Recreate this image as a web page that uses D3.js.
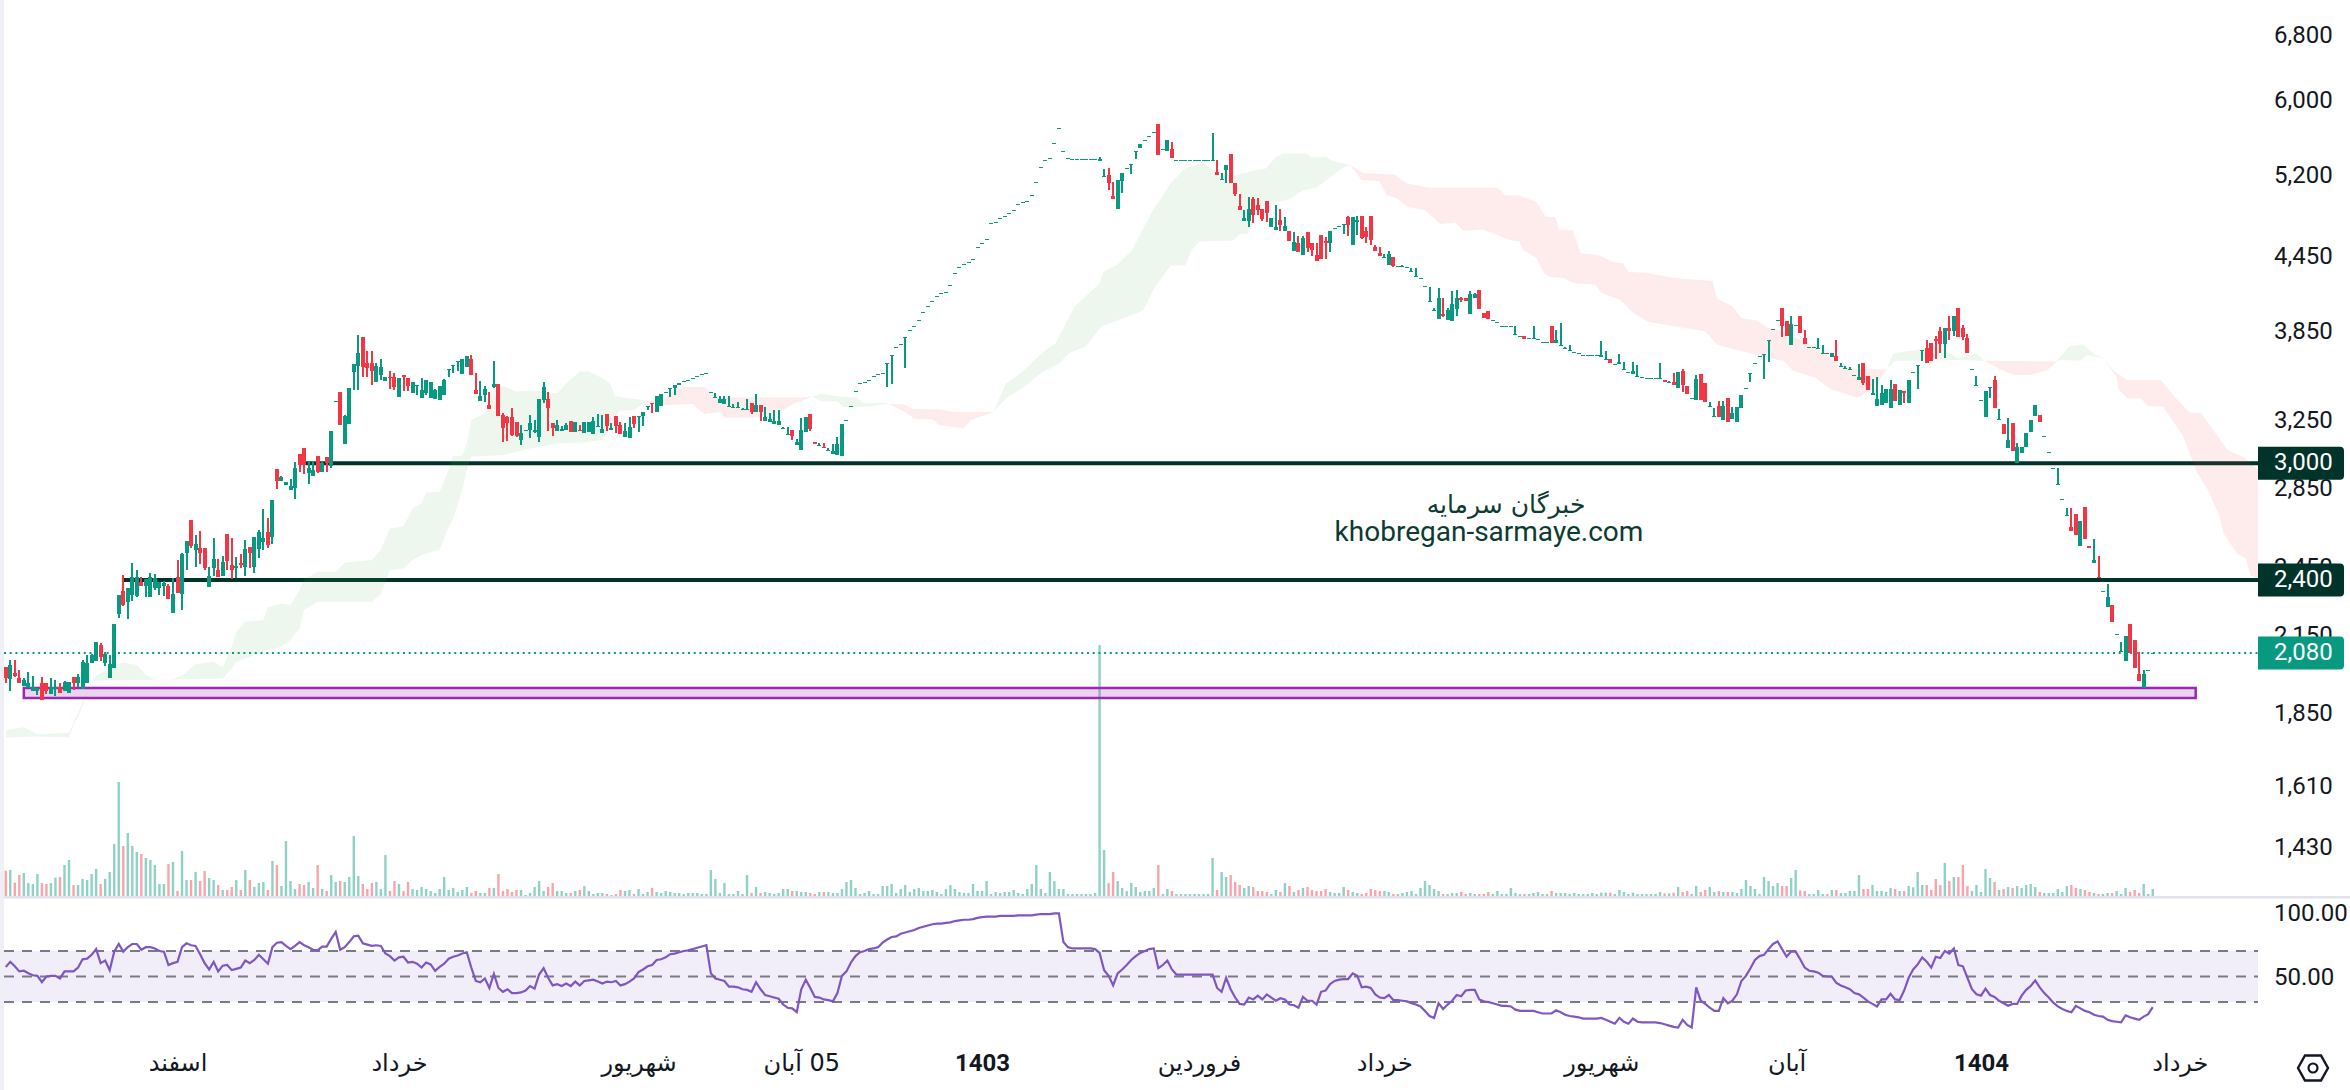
<!DOCTYPE html>
<html>
<head>
<meta charset="utf-8">
<script src="https://cdnjs.cloudflare.com/ajax/libs/d3/7.8.5/d3.min.js"></script>
<style>
    html, body { margin: 0; padding: 0; background: #fff; }
    svg { display: block; }
    text { font-family: Roboto, "DejaVu Sans", sans-serif; fill: #131722; }
    .axis text { font-size: 24px; }
    .axis .domain { display: none; }
    .persian text, text.persian { font-family: "DejaVu Sans", Roboto, sans-serif; }
</style>
</head>
<body>
<div id="graph"></div>
<script>
// one row per session: open, high, low, close
var candles = [
    [2019,2019,1961,1978],[1975,2048,1931,2029],[1999,2048,1984,1987],[1978,2009,1961,1961],[1949,1978,1949,1971],
    [1940,2000,1940,1961],[1931,1988,1931,1946],[1928,1940,1915,1940],[1959,1982,1895,1895],[1959,1959,1919,1931],
    [1919,1978,1919,1946],[1936,1971,1913,1946],[1944,1959,1924,1924],[1931,1968,1931,1963],[1924,1965,1924,1965],
    [1982,1982,1934,1959],[1959,1994,1946,1982],[1936,2048,1936,2042],[1961,2068,1961,2038],[2035,2071,2035,2068],
    [2045,2119,2045,2119],[2108,2115,2045,2058],[2035,2079,2025,2072],[1980,2068,1980,2032],[2018,2194,2018,2194],
    [2237,2320,2222,2320],[2338,2410,2270,2276],[2290,2350,2216,2350],[2320,2465,2294,2400],[2315,2434,2312,2400],
    [2380,2400,2361,2361],[2360,2391,2312,2391],[2312,2418,2312,2400],[2350,2414,2342,2396],[2350,2380,2320,2380],
    [2361,2383,2315,2375],[2360,2372,2303,2303],[2241,2395,2241,2324],[2400,2481,2327,2327],[2324,2513,2254,2510],
    [2516,2573,2434,2573],[2679,2679,2537,2549],[2529,2603,2449,2559],[2537,2623,2462,2516],[2537,2537,2434,2444],
    [2357,2449,2357,2408],[2444,2588,2406,2486],[2434,2484,2400,2403],[2408,2500,2408,2473],[2608,2608,2434,2476],
    [2460,2588,2392,2434],[2444,2494,2398,2452],[2465,2510,2446,2457],[2449,2578,2408,2534],[2545,2545,2444,2516],
    [2449,2592,2421,2592],[2534,2628,2492,2620],[2570,2736,2529,2590],[2616,2689,2540,2554],[2592,2784,2559,2784],
    [2955,2955,2843,2889],[2889,2915,2889,2911],[2867,2884,2867,2884],[2841,2898,2841,2860],[2847,2993,2788,2962],
    [3040,3040,2939,2977],[3074,3074,2926,2977],[2934,3000,2871,2958],[2917,2998,2917,2949],[3029,3029,2934,2939],
    [2939,2996,2939,2987],[3023,3023,2939,2987],[2974,3178,2962,3178],[3367,3367,3367,3367],[3427,3427,3215,3215],
    [3100,3277,3100,3273],[3221,3453,3221,3453],[3560,3615,3440,3615],[3601,3825,3436,3692],[3810,3810,3528,3597],
    [3620,3704,3528,3590],[3620,3704,3473,3570],[3495,3620,3495,3601],[3540,3650,3506,3597],[3502,3524,3502,3524],
    [3524,3567,3447,3521],[3524,3551,3440,3462],[3396,3521,3396,3521],[3537,3537,3429,3528],[3517,3517,3429,3466],
    [3422,3493,3422,3493],[3464,3471,3407,3471],[3389,3517,3389,3436],[3418,3506,3403,3506],[3389,3493,3389,3493],
    [3382,3444,3382,3436],[3375,3466,3375,3466],[3407,3513,3407,3506],[3574,3579,3528,3579],[3601,3606,3556,3606],
    [3629,3634,3570,3634],[3549,3648,3549,3648],[3597,3672,3597,3672],[3648,3678,3542,3542],[3440,3551,3414,3414],
    [3369,3500,3369,3400],[3403,3466,3362,3447],[3339,3427,3315,3315],[3458,3636,3449,3477],[3480,3480,3273,3273],
    [3275,3288,3114,3199],[3267,3271,3120,3229],[3267,3324,3150,3154],[3235,3235,3144,3148],[3126,3215,3096,3164],
    [3182,3182,3182,3182],[3182,3277,3138,3225],[3174,3246,3168,3184],[3144,3380,3114,3380],[3373,3491,3352,3458],
    [3380,3425,3180,3324],[3225,3225,3150,3195],[3180,3246,3180,3215],[3180,3209,3180,3188],[3184,3225,3184,3215],
    [3238,3238,3174,3174],[3174,3233,3174,3233],[3184,3213,3180,3180],[3164,3231,3164,3231],[3174,3235,3174,3235],
    [3160,3267,3160,3242],[3205,3284,3205,3211],[3168,3277,3168,3190],[3284,3284,3178,3209],[3184,3229,3184,3195],
    [3271,3271,3168,3209],[3215,3235,3160,3160],[3144,3229,3144,3180],[3138,3267,3138,3205],[3271,3271,3199,3221],
    [3267,3271,3174,3271],[3273,3296,3211,3296],[3330,3335,3309,3335],[3352,3352,3292,3348],[3296,3400,3296,3400],
    [3335,3414,3335,3414],[3425,3425,3425,3425],[3447,3451,3390,3451],[3449,3471,3407,3471],[3469,3484,3469,3484],
    [3497,3497,3497,3497],[3504,3504,3504,3504],[3517,3517,3517,3517],[3530,3530,3530,3530],[3544,3544,3544,3544],
    [3551,3551,3551,3551],[3425,3425,3425,3425],[3390,3418,3390,3394],[3354,3400,3354,3380],[3348,3400,3348,3380],
    [3330,3400,3330,3335],[3324,3348,3324,3328],[3324,3360,3324,3328],[3311,3322,3311,3315],[3311,3380,3311,3315],
    [3354,3354,3286,3296],[3298,3414,3298,3341],[3341,3341,3240,3296],[3240,3328,3240,3265],[3233,3290,3233,3252],
    [3221,3309,3221,3240],[3215,3309,3215,3240],[3192,3203,3192,3197],[3156,3203,3156,3160],[3184,3184,3124,3148],
    [3094,3130,3094,3112],[3064,3258,3064,3184],[3172,3265,3172,3265],[3284,3284,3178,3190],[3112,3112,3102,3102],
    [3090,3106,3090,3094],[3082,3106,3076,3076],[3058,3076,3058,3064],[3041,3100,3041,3058],[3035,3142,3035,3100],
    [3029,3221,3029,3221],[3244,3244,3244,3244],[3332,3332,3332,3332],[3431,3431,3431,3431],[3484,3484,3484,3484],
    [3491,3491,3491,3491],[3504,3504,3504,3504],[3530,3530,3530,3530],[3544,3544,3544,3544],[3551,3551,3551,3551],
    [3616,3620,3462,3620],[3671,3676,3480,3676],[3735,3735,3735,3735],[3757,3757,3757,3757],[3802,3807,3590,3807],
    [3859,3859,3859,3859],[3888,3888,3888,3888],[3932,3932,3932,3932],[3992,3992,3992,3992],[4038,4038,4038,4038],
    [4077,4077,4077,4077],[4116,4116,4116,4116],[4140,4140,4140,4140],[4148,4148,4148,4148],[4204,4204,4204,4204],
    [4304,4304,4304,4304],[4352,4352,4352,4352],[4378,4378,4378,4378],[4396,4396,4396,4396],[4421,4421,4421,4421],
    [4523,4523,4523,4523],[4559,4559,4559,4559],[4594,4594,4594,4594],[4736,4736,4736,4736],[4745,4745,4745,4745],
    [4781,4781,4781,4781],[4799,4799,4799,4799],[4827,4827,4827,4827],[4855,4855,4855,4855],[4911,4911,4911,4911],
    [4930,4930,4930,4930],[4940,4940,4940,4940],[4997,4997,4997,4997],[5123,5123,5123,5123],[5273,5273,5273,5273],
    [5345,5345,5345,5345],[5366,5366,5366,5366],[5521,5521,5521,5521],[5683,5683,5683,5683],[5437,5437,5437,5437],
    [5366,5366,5366,5366],[5356,5356,5356,5356],[5356,5356,5356,5356],[5356,5356,5356,5356],[5356,5356,5356,5356],
    [5356,5356,5356,5356],[5356,5356,5356,5356],[5332,5377,5332,5356],[5178,5256,5178,5184],[5198,5266,5045,5116],
    [4987,5127,4962,4962],[4868,5147,4868,5147],[5136,5218,5018,5218],[5263,5263,5263,5263],[5297,5304,5205,5304],
    [5428,5437,5356,5437],[5472,5514,5472,5514],[5553,5553,5553,5553],[5595,5595,5595,5595],[5639,5639,5639,5639],
    [5732,5732,5398,5398],[5458,5458,5458,5458],[5440,5557,5440,5557],[5461,5535,5370,5370],[5345,5345,5345,5345],
    [5345,5345,5345,5345],[5345,5345,5345,5345],[5345,5345,5345,5345],[5345,5345,5345,5345],[5345,5345,5345,5345],
    [5345,5345,5345,5345],[5345,5345,5345,5345],[5342,5632,5342,5349],[5223,5345,5198,5198],[5147,5212,5147,5154],
    [5246,5297,5120,5297],[5408,5408,5116,5116],[5113,5113,4991,5011],[4899,5011,4861,4861],[4760,4861,4760,4784],
    [4760,4978,4703,4867],[4962,4981,4739,4812],[4905,4971,4812,4861],[4867,4867,4757,4775],[4943,4943,4748,4830],
    [4703,4784,4703,4784],[4676,4905,4676,4703],[4766,4867,4667,4721],[4664,4793,4664,4712],[4667,4667,4577,4577],
    [4491,4658,4491,4568],[4559,4622,4482,4482],[4456,4622,4456,4604],[4658,4658,4482,4518],[4562,4562,4447,4500],
    [4456,4562,4406,4406],[4631,4631,4424,4424],[4580,4615,4424,4562],[4562,4667,4482,4667],[4695,4695,4695,4695],
    [4712,4712,4712,4712],[4724,4730,4640,4730],[4793,4802,4622,4724],[4544,4793,4544,4793],[4748,4802,4631,4766],
    [4802,4802,4595,4604],[4667,4703,4562,4613],[4802,4802,4544,4586],[4527,4544,4491,4491],[4473,4527,4447,4447],
    [4430,4465,4430,4436],[4373,4491,4373,4465],[4442,4442,4358,4367],[4364,4364,4364,4364],[4364,4373,4364,4364],
    [4355,4355,4355,4355],[4315,4346,4315,4321],[4272,4346,4272,4278],[4263,4263,4263,4263],[4195,4195,4195,4195],
    [4074,4190,4074,4079],[4001,4025,4001,4006],[3941,4182,3941,4102],[3979,4102,3956,3964],[3934,4025,3934,4010],
    [3926,4156,3926,4056],[4018,4164,3964,4102],[4102,4112,4071,4090],[4102,4102,4079,4079],[3979,4156,3979,4133],
    [4102,4143,4102,4133],[4164,4164,4018,4018],[3987,3987,3949,3949],[4001,4001,3941,3941],[3934,3934,3934,3934],
    [3917,3917,3917,3917],[3888,3888,3888,3888],[3888,3888,3888,3888],[3888,3888,3888,3888],[3825,3891,3825,3830],
    [3817,3817,3817,3817],[3817,3817,3795,3795],[3800,3800,3800,3800],[3797,3891,3797,3802],[3792,3792,3792,3792],
    [3771,3771,3771,3771],[3771,3771,3771,3771],[3891,3891,3766,3766],[3766,3861,3766,3788],[3747,3912,3747,3752],
    [3726,3738,3726,3731],[3711,3752,3711,3716],[3700,3700,3700,3700],[3690,3690,3690,3690],[3676,3676,3676,3676],
    [3676,3676,3676,3676],[3676,3676,3676,3676],[3676,3676,3676,3676],[3667,3781,3667,3676],[3645,3709,3645,3650],
    [3650,3650,3622,3622],[3615,3615,3615,3615],[3613,3686,3613,3629],[3574,3629,3574,3579],[3558,3558,3558,3558],
    [3546,3629,3546,3567],[3528,3608,3528,3533],[3524,3524,3524,3524],[3517,3517,3517,3517],[3517,3517,3517,3517],
    [3517,3517,3517,3517],[3515,3622,3515,3519],[3506,3506,3493,3493],[3489,3500,3489,3493],[3493,3553,3473,3473],
    [3453,3560,3453,3560],[3567,3581,3427,3473],[3466,3466,3414,3414],[3385,3385,3385,3385],[3376,3540,3376,3513],
    [3547,3547,3376,3376],[3488,3488,3362,3362],[3330,3362,3330,3335],[3271,3320,3271,3271],[3335,3367,3267,3267],
    [3246,3367,3246,3335],[3385,3385,3235,3235],[3250,3330,3250,3292],[3235,3326,3235,3326],[3324,3407,3324,3407],
    [3449,3455,3449,3449],[3544,3551,3495,3551],[3620,3620,3620,3620],[3669,3669,3669,3669],[3678,3683,3513,3683],
    [3781,3788,3632,3788],[3868,3868,3868,3868],[3937,3937,3937,3937],[4028,4028,3805,3891],[3925,3925,3817,3817],
    [3752,3964,3752,3905],[3898,3898,3898,3898],[3964,3964,3837,3837],[3800,3861,3759,3759],[3735,3735,3735,3735],
    [3735,3735,3735,3735],[3726,3800,3726,3731],[3686,3752,3686,3690],[3690,3690,3682,3682],[3667,3690,3667,3690],
    [3671,3788,3635,3635],[3597,3620,3597,3601],[3585,3599,3585,3590],[3572,3597,3572,3583],[3540,3540,3540,3540],
    [3506,3613,3506,3524],[3620,3620,3475,3484],[3533,3533,3440,3440],[3403,3511,3403,3418],[3335,3528,3335,3380],
    [3341,3473,3341,3418],[3356,3444,3356,3444],[3324,3506,3324,3447],[3477,3477,3369,3369],[3341,3440,3341,3440],
    [3433,3433,3356,3418],[3356,3506,3356,3506],[3558,3558,3558,3558],[3601,3606,3447,3606],[3704,3711,3636,3711],
    [3728,3788,3620,3620],[3764,3764,3638,3638],[3793,3817,3648,3776],[3849,3881,3690,3757],[3757,3871,3660,3871],
    [3873,3964,3783,3849],[3849,3964,3812,3964],[4025,4025,3805,3805],[3873,3898,3788,3807],[3800,3832,3690,3690],
    [3581,3581,3581,3581],[3469,3533,3469,3473],[3371,3371,3371,3371],[3267,3429,3267,3429],[3455,3460,3385,3460],
    [3506,3533,3324,3324],[3248,3315,3248,3252],[3221,3221,3158,3158],[3074,3256,3074,3124],[3225,3225,3060,3060],
    [2987,3104,2987,3084],[3045,3080,3045,3080],[3084,3164,3084,3164],[3174,3246,3174,3246],[3273,3339,3273,3339],
    [3277,3277,3235,3235],[3148,3148,3148,3148],[3051,3051,3051,3051],[2958,2958,2958,2958],[2867,2958,2867,2871],
    [2790,2790,2790,2790],[2701,2740,2701,2705],[2645,2740,2625,2625],[2708,2708,2603,2603],[2550,2674,2550,2674],
    [2745,2745,2585,2585],[2548,2548,2541,2541],[2468,2586,2468,2481],[2403,2500,2398,2398],[2336,2336,2336,2336],
    [2269,2368,2269,2310],[2275,2275,2204,2204],[2153,2153,2153,2153],[2080,2122,2080,2083],[2045,2145,2045,2145],
    [2194,2194,2075,2075],[2128,2128,2018,2018],[1994,2079,1968,1968],[1940,2011,1940,1994],[2011,2011,2011,2011],
    [2077,2077,2077,2077]
];

var volumes = [
    76,78,40,63,69,39,36,66,39,36,
    39,55,57,93,108,33,33,51,48,66,
    81,36,51,72,156,342,150,189,150,132,
    126,114,108,93,36,36,96,102,15,135,
    48,48,72,45,75,54,48,33,18,18,
    27,48,18,78,48,27,39,42,18,105,
    93,30,165,45,21,36,33,42,24,93,
    21,15,63,42,45,42,57,180,60,36,
    21,39,42,21,123,15,45,36,15,42,
    21,18,27,21,15,9,21,57,18,24,
    12,18,27,9,15,9,9,24,24,66,
    15,21,12,18,18,3,9,27,45,15,
    27,39,15,15,9,9,15,18,30,15,
    6,9,9,6,3,6,18,15,18,6,
    21,6,12,24,12,9,15,12,9,9,
    6,9,9,9,6,6,78,51,9,39,
    6,6,15,6,63,9,27,9,12,9,
    6,9,21,21,15,15,12,12,9,6,
    12,12,12,9,9,21,42,48,24,6,
    9,15,6,6,30,30,36,9,21,33,
    12,21,24,15,15,18,12,6,21,33,
    21,12,9,9,36,15,15,45,6,12,
    9,12,12,18,9,6,21,36,93,21,
    9,72,45,21,21,6,6,6,6,6,
    6,9,753,138,39,72,45,24,15,39,
    27,12,15,15,24,93,6,21,15,6,
    6,6,6,6,6,6,6,114,18,72,
    57,63,42,33,24,30,27,15,15,12,
    6,18,12,39,30,12,18,24,27,18,
    15,15,21,12,9,9,27,18,12,9,
    6,9,21,18,15,15,12,6,6,9,
    12,15,6,24,45,33,21,15,6,6,
    9,9,12,6,9,6,6,6,12,6,
    15,6,6,24,9,6,6,6,9,12,
    6,6,15,9,9,9,6,9,6,6,
    6,9,6,10,10,10,6,18,12,6,
    10,6,6,6,6,6,12,8,8,10,
    27,12,15,6,30,12,18,27,12,15,
    12,12,12,9,21,48,30,21,6,57,
    45,30,39,30,30,54,78,17,15,6,
    6,18,6,6,18,18,9,9,15,15,
    63,21,21,33,15,15,12,24,21,15,
    15,30,26,72,33,33,18,51,33,99,
    45,57,57,93,30,15,33,12,81,54,
    42,18,21,27,24,30,24,33,36,27,
    12,9,9,9,21,12,30,33,24,21,
    18,12,9,6,6,9,9,15,6,24,
    12,18,9,36,6,21
];

var rsiValues = [
    57.5,61.5,58,54,54.5,52.5,51,50.5,45.5,50,
    50.5,50.5,48.5,54,54,54,57,63.5,64,67,
    71.5,60.5,62.5,55,69.5,75.5,69.5,73,75.5,75.5,
    71,73,73,72,70,69.5,59,60.5,61.5,73,
    76,74.5,74,67.5,60.5,55.5,61.5,54,58.5,59,
    55,56,57,62.5,60.5,63,67,63.5,60,73,
    76.5,77,74,71.5,74,77,74.5,73,71,70.5,
    73.5,73.5,79.5,85,71,73,77,81.5,82,76,
    75,74,74.5,74,68,66,62.5,65,65.5,61,
    61.5,60,57,61,59.5,54.5,57.5,60,64,65.5,
    66.5,68,69,57,46.5,45.5,48.5,41,52,41,
    38,40,37,37,37.5,39,42.5,40.5,51.5,56.5,
    49,43,44,42.5,44.5,42.5,46,43,46.5,47,
    47.5,46,44.5,46,45.5,46.5,43,44,46,48.5,
    53.5,55.5,58,59,63,63.5,65,67.5,68,69,
    70,70.5,71.5,72.5,73.5,74.5,52.5,48.5,47.5,46.5,
    42,42,41.5,40,39.5,38,45.5,40,35.5,34.5,
    33.5,32.5,28,25.5,25,22,40,47.5,41,34,
    33.5,32,31.5,30.5,37,50.5,54,61,66,69,
    70,71.5,72,73,76.5,79,81,81.5,83.5,84.5,
    85.5,86.5,88,89,90,91,91.5,91.5,92,92.5,
    93.5,94,94.5,94.5,95,96,96.5,97,97,97,
    97.5,97.5,97.5,97.5,98,98,98,98,98.5,99,
    99,99,99.5,99.5,77,73,72,72,72,72,
    72,71.5,68.5,55,50.5,43,52.5,55.5,59,63,
    66,68.5,70,71.5,72,56.5,59,62.5,55.5,51.5,
    51.5,51.5,51.5,51.5,51.5,51.5,51.5,51.5,41,38,
    49,40,33.5,28.5,28,33.5,32,35,32,36,
    33.5,31,33,32,28,27.5,25.5,34,31,31,
    28,38,39,44,46.5,47.5,48,48,52.5,50.5,
    41.5,42,41,36,33.5,33,35.5,31.5,31.5,31,
    30.5,29,28,26.5,23,19,17.5,29,24.5,28,
    31,35.5,34.5,39,39.5,39.5,32,30.5,30,29,
    28,27,27,26.5,24,23,23,23,23,22,
    21,21,21,23.5,22,20,19,18.5,18,17,
    17,17,17,17.5,16,14.5,13,17.5,14.5,13,
    17,14.5,14,14,14,14,13.5,12.5,11.5,10.5,
    10,16,12,10,41.5,31,28.5,25.5,23,23,
    33,29,31,36,46.5,50.5,56.5,63,66,67,
    71.5,75.5,77.5,71.5,65.5,69.5,69.5,63.5,57,54.5,
    54,53,50.5,50,50,45,43,41.5,40,37,
    36,33.5,30.5,28.5,26.5,32,32,36.5,32,31.5,
    39,49,55.5,59.5,65,61.5,57,65.5,64.5,70,
    68,72,59,58,49,40,36,35,40.5,35.5,
    34,31,29,27,28.5,28.5,35,39.5,42.5,47,
    41.5,37,33.5,29.5,26.5,24.5,23,22,27,25,
    23,22,20,19,18.5,16,15,14.5,14,19.5,
    18,17,16,18.5,20.5,26
];

// cloud outlines as [bar, price]
var greenCloud = [
    { upper: [[0,1790],[4,1800],[7,1776],[14,1781],[16,1849]],
      lower: [[0,1765],[7,1768],[14,1765],[16,1849]] },
    { upper: [[19,1968],[20,1987],[24,2026],[26,2038],[29,2029],[31,1990],[33,1974],[36,1969],[39,1987],[42,2031],[46,2042],[48,2019],[50,2101],[51,2162],[53,2204],[57,2211],[58,2266],[61,2283],[63,2276],[65,2342],[66,2391],[69,2426],[73,2426],[75,2468],[81,2481],[83,2532],[85,2636],[88,2648],[90,2740],[92,2766],[93,2825],[96,2829],[98,2949],[99,3029],[101,3033],[102,3104],[103,3246],[106,3288],[108,3440],[110,3466],[113,3429],[116,3435],[122,3418],[124,3484],[127,3563],[129,3563],[132,3517],[133.6,3484],[134.9,3396],[140.8,3373],[141.5,3362]],
      lower: [[19,1968],[48,1976],[50,2015],[51,2042],[53,2054],[57,2081],[61,2101],[63,2128],[65,2176],[66,2254],[69,2290],[81,2290],[83,2327],[85,2434],[88,2441],[90,2481],[92,2505],[96,2532],[98,2645],[99,2687],[101,2838],[102,2949],[103,3025],[110,3035],[116,3074],[122,3104],[127,3108],[132,3124],[135.7,3305],[139,3309],[141.5,3362]] },
    { upper: [[178.5,3396],[180.6,3416],[184.4,3396],[188.2,3390],[189.9,3352],[194.9,3356],[195.4,3348]],
      lower: [[178.5,3396],[180.2,3366],[184,3366],[185.3,3328],[190.8,3330],[194.9,3350],[195.4,3348]] },
    { upper: [[218.5,3296],[221.3,3484],[224.6,3551],[229.7,3704],[232.3,3764],[236.5,4036],[242,4221],[242.9,4317],[245.8,4372],[249.2,4500],[253.4,4827],[257.7,5113],[261,5263],[264.9,5320],[267,5246],[271.7,5185],[275.9,5239],[278.9,5263],[281,5380],[282.7,5415],[287.8,5415],[288.7,5373],[292,5380],[293.7,5338],[297.3,5300]],
      lower: [[218.5,3296],[221.3,3385],[225.5,3462],[228.9,3551],[233.1,3620],[235.2,3690],[239,3740],[242.4,3886],[249.2,3971],[251.7,4010],[254.3,4194],[257.7,4367],[260.9,4367],[262.4,4500],[264.1,4572],[271.7,4582],[273,4640],[274.7,4640],[275.9,4873],[281.9,4936],[284.4,4968],[287,5046],[290,5073],[293.3,5180],[295,5246],[297.3,5300]] },
    { upper: [[416.1,3579],[417.6,3690],[422,3709],[427,3740],[429,3716],[431.9,3655],[435.9,3690],[437.8,3638]],
      lower: [[416.1,3579],[418,3636],[432.9,3643],[437.8,3638]] },
    { upper: [[453.6,3632],[456.6,3740],[459.6,3752],[462,3685],[464,3655]],
      lower: [[453.6,3632],[454.6,3643],[459,3638],[460.6,3678],[464,3655]] }
];
var redCloud = [
    { upper: [[15,1815],[16,1849],[19,1968]],
      lower: [[15,1815],[16,1835],[19,1968]] },
    { upper: [[141.5,3362],[145.5,3385],[148.9,3462],[154.8,3457],[156.9,3390],[175.5,3390],[178.5,3396]],
      lower: [[141.5,3362],[145.5,3341],[152,3348],[154.5,3284],[158.2,3296],[159,3261],[165.4,3261],[171.3,3298],[174.7,3356],[178.5,3396]] },
    { upper: [[195.4,3348],[198.4,3346],[200.9,3315],[206.9,3313],[209.4,3296],[218.5,3296]],
      lower: [[195.4,3348],[198.8,3298],[200.9,3256],[205.2,3250],[206.4,3215],[211.9,3195],[213.6,3246],[218.5,3296]] },
    { upper: [[297.3,5300],[300.5,5212],[307.3,5197],[309.8,5113],[314.9,5070],[330.1,5070],[331.8,4995],[334.8,4995],[338.6,4936],[340.7,4796],[342.8,4790],[343.7,4677],[346.7,4671],[348.4,4472],[352.2,4458],[355.6,4396],[357.7,4387],[359,4315],[363.2,4304],[369.1,4263],[377.6,4240],[378.6,4100],[382,4036],[384,3947],[387.4,3930],[389.9,3873],[391.9,3861],[400,3740],[405.3,3612],[409.7,3579],[416.1,3579]],
      lower: [[297.3,5300],[298,5263],[300,5147],[303.9,5136],[305.6,4995],[307.7,4968],[310.2,4885],[314,4855],[317.4,4730],[320.8,4742],[322.5,4667],[326.8,4680],[332.7,4586],[334.8,4572],[335.7,4500],[338.6,4430],[340.3,4304],[341.6,4271],[344.5,4263],[347,4221],[351.7,4208],[352.9,4147],[357.2,4087],[359.8,3997],[363.1,3922],[369,3886],[376,3849],[378.6,3752],[383,3713],[393.4,3635],[395.4,3568],[400.3,3522],[403.7,3443],[409.7,3390],[413.1,3443],[416.1,3579]] },
    { upper: [[437.8,3638],[453.6,3632]],
      lower: [[437.8,3638],[440.8,3585],[444.3,3540],[447.7,3540],[451.7,3574],[453.6,3625]] },
    { upper: [[464,3655],[466.5,3563],[469.4,3506],[476.8,3506],[479.8,3396],[483.2,3292],[485.7,3288],[491.6,3064],[495,3025],[498.3,2949]],
      lower: [[464,3655],[467,3528],[467.5,3440],[469.4,3385],[472.4,3385],[473.9,3335],[477.3,3330],[481.8,3144],[484.7,2940],[487.2,2838],[489.7,2705],[490.7,2611],[493.6,2513],[495.6,2489],[496.6,2410],[498.3,2395]] }
];

var priceTicks = [6800, 6000, 5200, 4450, 3850, 3250, 2850, 2450, 2150, 1850, 1610, 1430];
var rsiTicks = [100, 50];
var rsiBands = [70, 50, 30];

var monthBars = [38, 87, 140, 176, 216, 264, 305, 353, 394, 437, 481];
var monthLabels = ["اسفند", "خرداد", "شهریور", "05 آبان", "1403", "فروردین", "خرداد", "شهریور", "آبان", "1404", "خرداد"];

var levelValues = [2988, 2388];
var levelLabels = ["3,000", "2,400"];
var levelStartBars = [66.4, 25.7];
var lastPrice = 2076;
var lastLabel = "2,080";
var zoneBars = [4, 484.5];
var zonePrices = [1941, 1904];

var GREEN = "#089981";
var RED = "#f23645";
var DARK = "#00332a";
var plotRight = 2258;

function isUp(row) {
    return row[3] >= row[0];
}

function drawGraph() {

    var svg = d3.select("#graph").append("svg")
        .attr("width", 2350)
        .attr("height", 1090);

    var x = d3.scaleLinear().domain([0, 475]).range([5.74, 5.74 + 4.52 * 475]);
    var y = d3.scaleLog().domain([6000, 1850]).range([100, 713]);
    var yVolume = d3.scaleLinear().domain([0, 753]).range([896, 645]);
    var yRsi = d3.scaleLinear().domain([30, 70]).range([1002, 951]);

    svg.append("rect").attr("x", 0).attr("y", 0).attr("width", 4).attr("height", 1090).attr("fill", "#eef0f6");
    svg.append("rect").attr("x", 4).attr("y", 896).attr("width", 2346).attr("height", 2.5).attr("fill", "#e0e3eb");

    // volume
    svg.append("g").selectAll("rect")
        .data(volumes)
        .enter().append("rect")
        .attr("x", function (d, i) { return x(i) - 1.2; })
        .attr("y", function (d) { return yVolume(d); })
        .attr("width", 2.4)
        .attr("height", function (d) { return yVolume(0) - yVolume(d); })
        .attr("fill", function (d, i) { return isUp(candles[i]) ? GREEN : RED; })
        .attr("fill-opacity", 0.45);

    // level lines sit below the cloud
    levelValues.forEach(function (value, i) {
        svg.append("line")
            .attr("x1", x(levelStartBars[i]))
            .attr("x2", plotRight)
            .attr("y1", y(value))
            .attr("y2", y(value))
            .attr("stroke", DARK)
            .attr("stroke-width", 4);
    });

    var outline = d3.line()
        .x(function (d) { return x(d[0]); })
        .y(function (d) { return y(d[1]); });

    function drawCloud(sections, color) {
        svg.append("g").selectAll("path")
            .data(sections)
            .enter().append("path")
            .attr("d", function (s) {
                return outline(s.upper.concat(s.lower.slice().reverse())) + "Z";
            })
            .attr("fill", color)
            .attr("fill-opacity", 0.1);
    }
    drawCloud(greenCloud, "#4caf50");
    drawCloud(redCloud, "#f23645");

    // support zone
    svg.append("rect")
        .attr("x", x(zoneBars[0]))
        .attr("y", y(zonePrices[0]))
        .attr("width", x(zoneBars[1]) - x(zoneBars[0]))
        .attr("height", y(zonePrices[1]) - y(zonePrices[0]))
        .attr("fill", "#9c27b0")
        .attr("fill-opacity", 0.2)
        .attr("stroke", "#9c27b0")
        .attr("stroke-width", 2.5);

    // last price dotted line
    svg.append("line")
        .attr("x1", 4)
        .attr("x2", plotRight)
        .attr("y1", y(lastPrice))
        .attr("y2", y(lastPrice))
        .attr("stroke", GREEN)
        .attr("stroke-width", 2)
        .attr("stroke-dasharray", "2 3.7");

    // candles
    var candleGroup = svg.append("g").attr("shape-rendering", "crispEdges");
    candleGroup.selectAll("line")
        .data(candles)
        .enter().append("line")
        .attr("x1", function (d, i) { return x(i); })
        .attr("x2", function (d, i) { return x(i); })
        .attr("y1", function (d) { return y(d[1]); })
        .attr("y2", function (d) { return y(d[2]); })
        .attr("stroke", function (d) { return isUp(d) ? GREEN : RED; })
        .attr("stroke-width", 2);
    candleGroup.selectAll("rect")
        .data(candles)
        .enter().append("rect")
        .attr("x", function (d, i) { return x(i) - 2; })
        .attr("y", function (d) { return y(Math.max(d[0], d[3])); })
        .attr("width", 4)
        .attr("height", function (d) {
            return Math.max(1, y(Math.min(d[0], d[3])) - y(Math.max(d[0], d[3])));
        })
        .attr("fill", function (d) { return isUp(d) ? GREEN : RED; });

    // rsi pane
    svg.append("rect")
        .attr("x", 4)
        .attr("y", yRsi(70))
        .attr("width", plotRight - 4)
        .attr("height", yRsi(30) - yRsi(70))
        .attr("fill", "#7e57c2")
        .attr("fill-opacity", 0.1);
    svg.append("g").selectAll("line")
        .data(rsiBands)
        .enter().append("line")
        .attr("x1", 4)
        .attr("x2", plotRight)
        .attr("y1", function (d) { return yRsi(d); })
        .attr("y2", function (d) { return yRsi(d); })
        .attr("stroke", "#787b86")
        .attr("stroke-width", 2)
        .attr("stroke-dasharray", "10 8");

    var rsiLine = d3.line()
        .x(function (d, i) { return x(i); })
        .y(function (d) { return yRsi(d); });
    svg.append("path")
        .attr("d", rsiLine(rsiValues))
        .attr("fill", "none")
        .attr("stroke", "#7e57c2")
        .attr("stroke-width", 2.2);

    // axes
    svg.append("g")
        .attr("class", "axis")
        .attr("transform", "translate(2274,0)")
        .call(d3.axisRight(y).tickValues(priceTicks).tickFormat(d3.format(",")).tickSize(0).tickPadding(0));
    svg.append("g")
        .attr("class", "axis")
        .attr("transform", "translate(2274,0)")
        .call(d3.axisRight(yRsi).tickValues(rsiTicks).tickFormat(d3.format(".2f")).tickSize(0).tickPadding(0));

    var monthAxis = svg.append("g")
        .attr("class", "axis persian")
        .attr("transform", "translate(0,1054)")
        .call(d3.axisBottom(x).tickValues(monthBars).tickFormat(function (d, i) { return monthLabels[i]; }).tickSize(0).tickPadding(0));
    monthAxis.selectAll("text")
        .attr("direction", "rtl")
        .style("font-weight", function (d, i) { return /^1\d{3}$/.test(monthLabels[i]) ? "700" : "400"; })
        .style("font-family", function (d, i) { return /^1\d{3}$/.test(monthLabels[i]) ? "Roboto" : null; });

    // price tags
    function drawTag(value, label, color) {
        var cy = y(value);
        svg.append("path")
            .attr("d", "M" + plotRight + "," + (cy - 16.5) + "h82a4,4 0 0 1 4,4v25a4,4 0 0 1 -4,4h-82z")
            .attr("fill", color);
        svg.append("text")
            .attr("x", 2274)
            .attr("y", cy - 1)
            .attr("dy", "0.32em")
            .attr("font-size", 24)
            .style("fill", "#fff")
            .text(label);
    }
    levelValues.forEach(function (value, i) {
        drawTag(value, levelLabels[i], DARK);
    });
    drawTag(lastPrice, lastLabel, GREEN);

    // watermark
    svg.append("text")
        .attr("class", "persian")
        .attr("x", 1506)
        .attr("y", 513)
        .attr("text-anchor", "middle")
        .attr("direction", "rtl")
        .attr("font-size", 25)
        .style("fill", "#0b3b32")
        .text("خبرگان سرمایه");
    svg.append("text")
        .attr("x", 1489)
        .attr("y", 541)
        .attr("text-anchor", "middle")
        .attr("font-size", 28)
        .style("fill", "#0b3b32")
        .text("khobregan-sarmaye.com");

    // logo
    var logo = svg.append("g").attr("transform", "translate(2313,1068)");
    logo.append("path")
        .attr("d", "M-15,0L-8,-12.5H8L15,0L8,12.5H-8Z")
        .attr("fill", "none")
        .attr("stroke", "#131722")
        .attr("stroke-width", 2.4);
    logo.append("circle")
        .attr("r", 4.5)
        .attr("fill", "none")
        .attr("stroke", "#131722")
        .attr("stroke-width", 2.2);
}

drawGraph();
</script>
</body>
</html>
